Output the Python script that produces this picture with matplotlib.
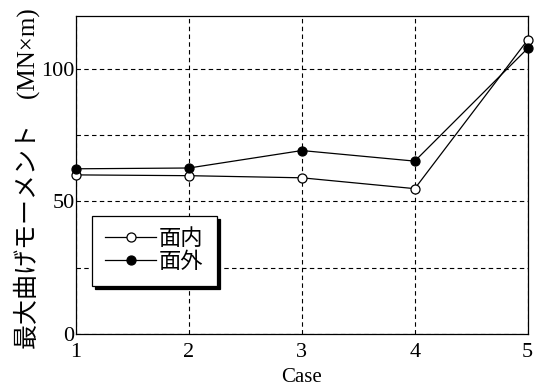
import matplotlib
matplotlib.use("Agg")
import matplotlib.pyplot as plt

# Maximum bending moment per case (MN x m)
cases = [1, 2, 3, 4, 5]
in_plane = [60.0, 59.7, 58.9, 54.8, 111.0]
out_plane = [62.3, 62.6, 69.2, 65.2, 107.8]
series_labels = ["面内", "面外"]
y_ticks = [0, 25, 50, 75, 100]
y_tick_labels = ["0", "", "50", "", "100"]

fonts = ["Liberation Serif", "Noto Sans CJK JP"]
plt.rcParams["font.family"] = fonts

fig = plt.figure(figsize=(5.41, 3.92), dpi=100)
ax = fig.add_axes([0.1405, 0.1487, 0.8349, 0.8103])

ax.plot(cases, in_plane, color="black", lw=0.9, marker="o", ms=6.5,
        mfc="white", mec="black", mew=0.9, label=series_labels[0], zorder=3,
        clip_on=False)
ax.plot(cases, out_plane, color="black", lw=0.9, marker="o", ms=6.5,
        mfc="black", mec="black", mew=0.9, label=series_labels[1], zorder=3,
        clip_on=False)

ax.set_xlim(1, 5)
ax.set_ylim(0, 120)
ax.set_xticks(cases)
ax.set_xticklabels([str(c) for c in cases])
ax.set_yticks(y_ticks)
ax.set_yticklabels(y_tick_labels)
ax.tick_params(axis="both", length=0, labelsize=16)
ax.tick_params(axis="x", pad=7)
ax.tick_params(axis="y", pad=1)

ax.grid(True, color="black", linestyle=(0, (4, 3)), linewidth=0.8)
for s in ax.spines.values():
    s.set_linewidth(0.9)
    s.set_color("black")

ax.set_xlabel("Case", fontsize=15, labelpad=4)
fig.text(27 / 541, 1 - 179 / 392, "最大曲げモーメント　(MN×m)", rotation=90,
         ha="center", va="center", fontsize=18, family=fonts)

leg = ax.legend(loc="upper left", bbox_to_anchor=(0.0354, 0.3705),
                frameon=True, fancybox=False, edgecolor="black",
                shadow={"color": "black", "alpha": 1.0, "ox": 2.2, "oy": -2.2},
                handlelength=2.3, handletextpad=0.1,
                labelspacing=0.1, borderpad=0.6, borderaxespad=0,
                prop={"family": fonts, "size": 16})
leg.get_frame().set_linewidth(0.9)

fig.savefig("out.png", dpi=100)
